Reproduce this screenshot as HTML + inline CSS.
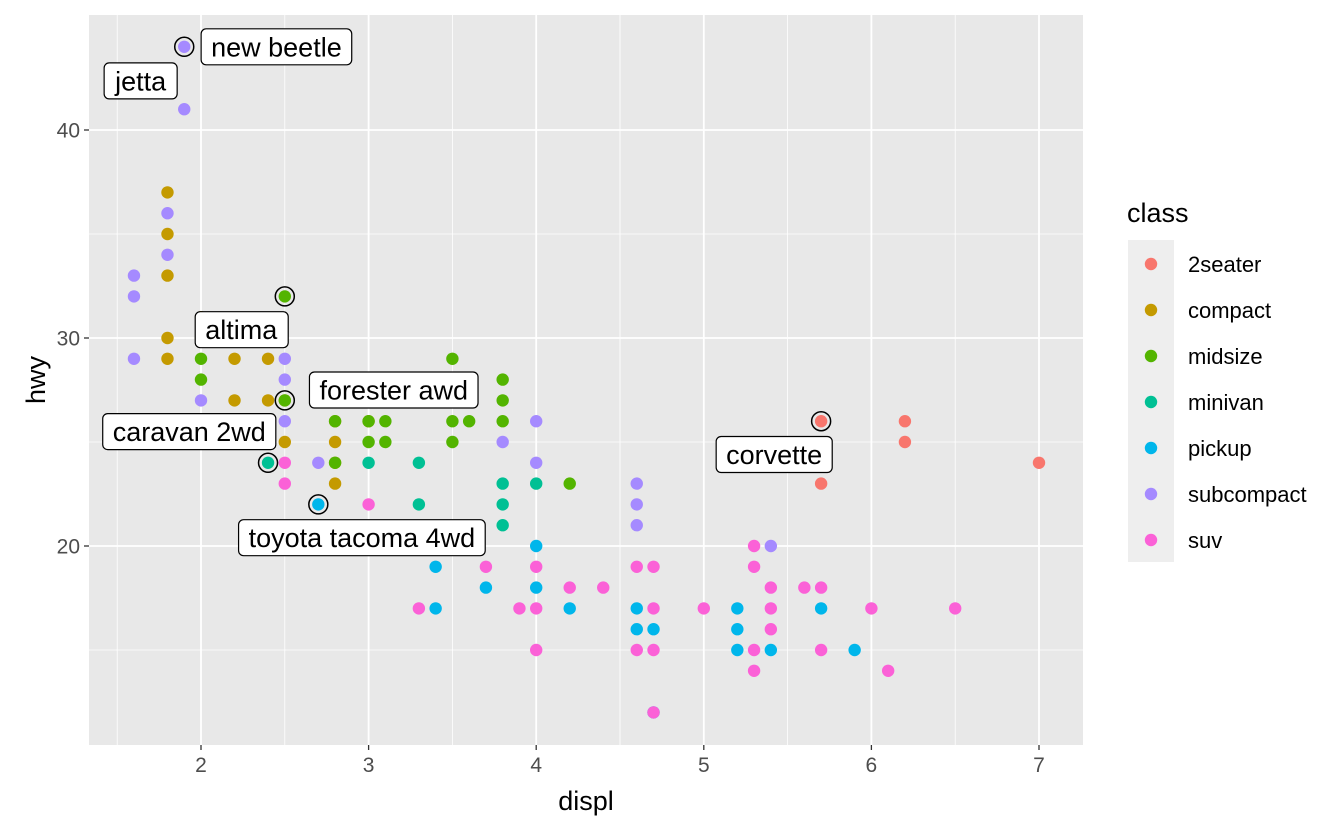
<!DOCTYPE html>
<html><head><meta charset="utf-8"><style>
body{margin:0;background:#fff;width:1344px;height:830px;overflow:hidden}
svg text{font-family:"Liberation Sans",Arial,sans-serif}
</style></head><body>
<svg id="chart" width="1344" height="830"></svg>
<script>
const classes=["2seater","compact","midsize","minivan","pickup","subcompact","suv"];
const colors=["#F8766D","#C49A00","#53B400","#00C094","#00B6EB","#A58AFF","#FB61D7"];
const xTicks=[2,3,4,5,6,7];
const yTicks=[20,30,40];
const pts2seater=[[5.7,26],[5.7,23],[6.2,26],[6.2,25],[7.0,24]];
const ptsCompact=[[1.8,37],[1.8,35],[1.8,33],[1.8,30],[1.8,29],[2.0,31],[2.0,30],[2.2,29],[2.2,27],[2.4,29],[2.4,27],[2.5,27],[2.5,25],[2.8,26],[2.8,25],[2.8,24],[2.8,23],[3.0,26]];
const ptsMidsize=[[2.0,29],[2.0,28],[2.5,32],[2.5,27],[2.8,26],[2.8,24],[3.0,26],[3.0,25],[3.1,26],[3.1,25],[3.5,29],[3.5,26],[3.5,25],[3.6,26],[3.8,28],[3.8,27],[3.8,26],[4.2,23]];
const ptsMinivan=[[2.4,24],[3.0,24],[3.3,24],[3.3,22],[3.8,23],[3.8,22],[3.8,21],[4.0,23]];
const ptsPickup=[[2.7,22],[3.4,19],[3.4,17],[3.7,18],[4.0,20],[4.0,18],[4.2,17],[4.6,17],[4.6,16],[4.7,16],[4.7,12],[5.2,17],[5.2,16],[5.2,15],[5.4,15],[5.7,17],[5.9,15]];
const ptsSubcompact=[[1.9,44],[1.9,41],[1.8,36],[1.8,34],[1.6,33],[1.6,32],[1.6,29],[2.0,27],[2.5,29],[2.5,28],[2.5,26],[2.7,24],[3.8,25],[4.0,26],[4.0,24],[4.6,23],[4.6,22],[4.6,21],[5.4,20]];
const ptsSuv=[[2.5,24],[2.5,23],[3.0,22],[3.3,17],[3.7,19],[3.9,17],[4.0,19],[4.0,17],[4.0,15],[4.2,18],[4.4,18],[4.6,19],[4.6,15],[4.7,19],[4.7,17],[4.7,15],[4.7,12],[5.0,17],[5.3,20],[5.3,19],[5.3,15],[5.3,14],[5.4,18],[5.4,17],[5.4,16],[5.6,18],[5.7,18],[5.7,15],[6.0,17],[6.1,14],[6.5,17]];
const series=[pts2seater,ptsCompact,ptsMidsize,ptsMinivan,ptsPickup,ptsSubcompact,ptsSuv];
const circled=[[1.9,44],[2.5,32],[2.5,27],[2.4,24],[2.7,22],[5.7,26]];
const labelText=["new beetle","jetta","altima","forester awd","caravan 2wd","toyota tacoma 4wd","corvette"];
const labelX=[2.45,1.64,2.24,3.15,1.93,2.96,5.42];
const labelY=[44,42.36,30.4,27.5,25.5,20.4,24.4];

const NS="http://www.w3.org/2000/svg";
const svg=document.getElementById("chart");
const L=89,R=1083,T=15,B=745;
const xs=v=>201+(v-2)*167.6;
const ys=v=>546-(v-20)*20.8;
function mk(tag,at,parent){const e=document.createElementNS(NS,tag);for(const k in at)e.setAttribute(k,at[k]);(parent||svg).appendChild(e);return e;}

const panel=mk("rect",{x:L,y:T,width:R-L,height:B-T,fill:"#e8e8e8"});


[1.5,2.5,3.5,4.5,5.5,6.5].forEach(v=>{const l=mk("line",{x1:xs(v),x2:xs(v),y1:T,y2:B,stroke:"#fff","stroke-width":0.8});

});
[15,25,35].forEach(v=>{const l=mk("line",{x1:L,x2:R,y1:ys(v),y2:ys(v),stroke:"#fff","stroke-width":0.8});

});
xTicks.forEach(v=>{const l=mk("line",{x1:xs(v),x2:xs(v),y1:T,y2:B,stroke:"#fff","stroke-width":1.8});


const tk=mk("line",{x1:xs(v),x2:xs(v),y1:B,y2:B+5,stroke:"#333","stroke-width":1.3});


const t=mk("text",{x:xs(v),y:B+27,"text-anchor":"middle","font-size":21,fill:"#4d4d4d"});t.textContent=v;

});
yTicks.forEach(v=>{const l=mk("line",{x1:L,x2:R,y1:ys(v),y2:ys(v),stroke:"#fff","stroke-width":1.8});


const tk=mk("line",{x1:L-5,x2:L,y1:ys(v),y2:ys(v),stroke:"#333","stroke-width":1.3});


const t=mk("text",{x:L-9,y:ys(v)+7.5,"text-anchor":"end","font-size":21,fill:"#4d4d4d"});t.textContent=v;

});

series.forEach((arr,i)=>arr.forEach(p=>{const c=mk("circle",{cx:xs(p[0]),cy:ys(p[1]),r:6.2,fill:colors[i]});

}));
circled.forEach(p=>{const c=mk("circle",{cx:xs(p[0]),cy:ys(p[1]),r:9.5,fill:"none",stroke:"#000","stroke-width":1.5});

});

labelText.forEach((s,i)=>{
 const g=mk("g",{});
 
 
 const t=mk("text",{x:xs(labelX[i]),y:ys(labelY[i])+9.5,"text-anchor":"middle","font-size":27,fill:"#000"},g);
 t.textContent=s;
 const bb=t.getBBox();
 const r=mk("rect",{x:bb.x-10,y:ys(labelY[i])-18,width:bb.width+20,height:36,rx:5,fill:"#fff",stroke:"#000","stroke-width":1.2},g);
 g.insertBefore(r,t);
});

const xt=mk("text",{x:(L+R)/2,y:810,"text-anchor":"middle","font-size":27,fill:"#000"});xt.textContent="displ";


const yt=mk("text",{x:0,y:0,"text-anchor":"middle","font-size":27,fill:"#000",transform:`translate(45,${(T+B)/2}) rotate(-90)`});yt.textContent="hwy";



const lt=mk("text",{x:1127,y:222,"font-size":27,fill:"#000"});lt.textContent="class";


const lb=mk("rect",{x:1128,y:240,width:46,height:322,fill:"#eeeeee"});


classes.forEach((c,i)=>{const y=264+i*46;
 const g=mk("g",{});
 
 
 mk("circle",{cx:1151,cy:y,r:6.2,fill:colors[i]},g);
 const t=mk("text",{x:1188,y:y+8,"font-size":22,fill:"#000"},g);t.textContent=c;});
</script>
</body></html>
